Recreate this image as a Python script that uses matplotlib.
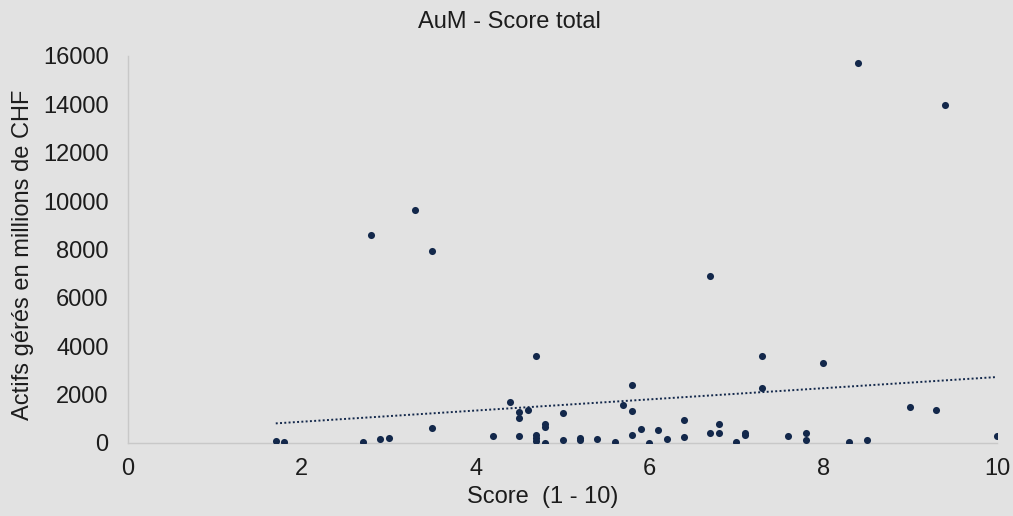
import numpy as np
import matplotlib
matplotlib.use('Agg')
import matplotlib.pyplot as plt

plt.rcParams['font.family'] = ['Liberation Sans', 'DejaVu Sans']

# ── Data ─────────────────────────────────────────────────────
score = [1.7, 1.8, 2.7, 2.8, 2.9, 3.0, 3.3, 3.5, 3.5, 4.2,
         4.4, 4.5, 4.5, 4.5, 4.6, 4.7, 4.7, 4.7, 4.7, 4.8,
         4.8, 4.8, 5.0, 5.0, 5.2, 5.2, 5.4, 5.6, 5.7, 5.8,
         5.8, 5.8, 5.9, 6.0, 6.1, 6.2, 6.4, 6.4, 6.7, 6.7,
         6.8, 6.8, 7.0, 7.1, 7.1, 7.3, 7.3, 7.6, 7.8, 7.8,
         8.0, 8.3, 8.4, 8.5, 9.0, 9.3, 9.4, 10.0]
aum = [80, 30, 30, 8600, 165, 190, 9650, 7930, 600, 300,
       1680, 1300, 1050, 280, 1380, 3580, 330, 190, 80, 770,
       660, 20, 1240, 140, 220, 140, 165, 55, 1560, 2400,
       1320, 330, 580, 20, 520, 165, 960, 250, 6890, 410,
       770, 410, 55, 410, 330, 3600, 2290, 280, 410, 140,
       3290, 55, 15700, 140, 1490, 1350, 13970, 280]

x_ticks = [0, 2, 4, 6, 8, 10]
y_ticks = [0, 2000, 4000, 6000, 8000, 10000, 12000, 14000, 16000]

BG = '#e2e2e2'
NAVY = '#13284b'
SPINE = '#c8c8c8'
TXT = '#1c1c1c'
FS = 17

fig = plt.figure(figsize=(10.13, 5.16), dpi=100, facecolor=BG)
ax = fig.add_axes([0.1264, 0.1415, 0.8578, 0.75])
ax.set_facecolor(BG)

x = np.array(score)
y = np.array(aum)
ax.scatter(x, y, s=26, color=NAVY, zorder=3, linewidths=0)

# linear trendline
k, b = np.polyfit(x, y, 1)
xt = np.array([x.min(), x.max()])
ax.plot(xt, k * xt + b, color=NAVY, lw=1.4, ls=(0, (1, 1.2)), zorder=2)

ax.set_xlim(0, 10)
ax.set_ylim(0, 16000)
ax.set_xticks(x_ticks)
ax.set_yticks(y_ticks)
ax.tick_params(length=0, labelsize=FS, colors=TXT)
ax.tick_params(axis='x', pad=11)
ax.tick_params(axis='y', pad=14)

for side in ['top', 'right']:
    ax.spines[side].set_visible(False)
for side in ['left', 'bottom']:
    ax.spines[side].set_color(SPINE)
    ax.spines[side].set_linewidth(1.0)

# title and axis labels placed like the reference
fig.text(0.5025, 0.957, 'AuM - Score total', fontsize=FS, color=TXT,
         ha='center', va='center')
fig.text(0.536, 0.037, 'Score  (1 - 10)', fontsize=FS, color=TXT,
         ha='center', va='center')
fig.text(0.0227, 0.506, 'Actifs gérés en millions de CHF', fontsize=FS,
         color=TXT, ha='center', va='center', rotation=90)

fig.savefig('out.png', dpi=100, facecolor=BG)
